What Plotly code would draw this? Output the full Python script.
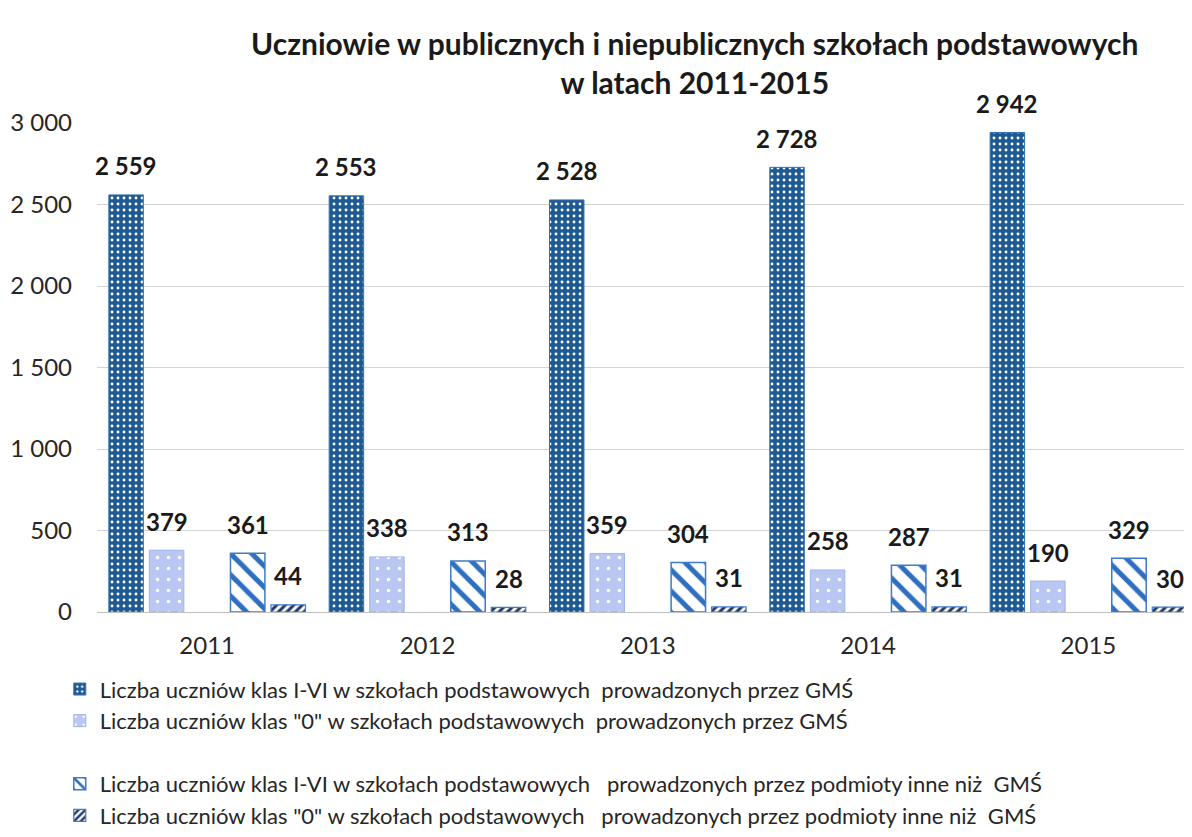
import plotly.graph_objects as go

years = ["2011", "2012", "2013", "2014", "2015"]
s1 = [2559, 2553, 2528, 2728, 2942]
s2 = [379, 338, 359, 258, 190]
s3 = [361, 313, 304, 287, 329]
s4 = [44, 28, 31, 31, 30]
names = [
    "Liczba uczniów klas I-VI w szkołach podstawowych\u00a0 prowadzonych przez GMŚ",
    "Liczba uczniów klas \"0\" w szkołach podstawowych\u00a0 prowadzonych przez GMŚ",
    " ",
    "Liczba uczniów klas I-VI w szkołach podstawowych\u00a0\u00a0 prowadzonych przez podmioty inne niż\u00a0 GMŚ",
    "Liczba uczniów klas \"0\" w szkołach podstawowych\u00a0\u00a0 prowadzonych przez podmioty inne niż\u00a0 GMŚ",
]
title = "Uczniowie w publicznych i niepublicznych szkołach podstawowych<br>w latach 2011-2015"

xs = list(range(len(years)))
bargap = 0.08
FONT = "Lato"

series = [s1, s2, [0] * len(years), s3, s4]
styles = [
    dict(color="#1d5a94", line=dict(color="#2f6fb0", width=1),
         pattern=dict(shape=".", fgcolor="#ffffff", bgcolor="#1d5a94", size=6, solidity=0.18, fillmode="replace")),
    dict(color="#b9c7f2", line=dict(color="#9fb4ec", width=1),
         pattern=dict(shape=".", fgcolor="#ffffff", bgcolor="#b9c7f2", size=11, solidity=0.08, fillmode="replace")),
    dict(color="rgba(0,0,0,0)", line=dict(width=0)),
    dict(color="#ffffff", line=dict(color="#3f7bc8", width=1.5),
         pattern=dict(shape="\\", fgcolor="#2f6fc0", bgcolor="#ffffff", size=15, solidity=0.33, fillmode="replace")),
    dict(color="#ffffff", line=dict(color="#3f7bc8", width=1.2),
         pattern=dict(shape="/", fgcolor="#1a3766", bgcolor="#ffffff", size=6, solidity=0.5, fillmode="replace")),
]

fig = go.Figure()
for name, vals, st in zip(names, series, styles):
    fig.add_trace(go.Bar(x=xs, y=vals, name=name, marker=st, hoverinfo="skip"))

slot = (1 - bargap) / len(series)
annotations = []
for k, vals in enumerate(series):
    if k == 2:
        continue
    for i, v in enumerate(vals):
        annotations.append(dict(
            x=i + (k - (len(series) - 1) / 2) * slot, y=v, xref="x", yref="y",
            text=f"{v:,}".replace(",", "\u00a0"), showarrow=False,
            yanchor="middle", yshift=29,
            font=dict(family=FONT, size=24, color="#1a1a1a", weight="bold"),
        ))

fig.update_layout(
    width=1184, height=829,
    paper_bgcolor="white", plot_bgcolor="white",
    margin=dict(l=89, r=0, t=115, b=225),
    barmode="group", bargap=bargap, bargroupgap=0.15,
    separators=", ",
    title=dict(text=title, x=0.580, xanchor="center", yref="container", y=0.943, yanchor="top",
               font=dict(family=FONT, size=30, color="#1a1a1a", weight="bold")),
    annotations=annotations,
    showlegend=True,
    legend=dict(x=-0.034, xanchor="left", y=-0.115, yanchor="top",
                font=dict(family=FONT, size=22, color="#262626"),
                traceorder="normal", itemwidth=30, tracegroupgap=0,
                bgcolor="rgba(0,0,0,0)"),
    font=dict(family=FONT),
)
fig.update_xaxes(tickmode="array", tickvals=xs, ticktext=years, range=[-0.5, 4.47],
                 showgrid=False, zeroline=False, showline=True, linecolor="#bfbfbf", linewidth=1,
                 ticks="", ticklabelstandoff=12, tickfont=dict(family=FONT, size=24, color="#262626"))
fig.update_yaxes(range=[0, 3000], dtick=500, tickformat=",d", showgrid=True, gridcolor="#d4d4d4",
                 gridwidth=1, zeroline=False, ticks="", ticklabelstandoff=24,
                 tickfont=dict(family=FONT, size=24, color="#262626"))

fig.write_html("out.html")
